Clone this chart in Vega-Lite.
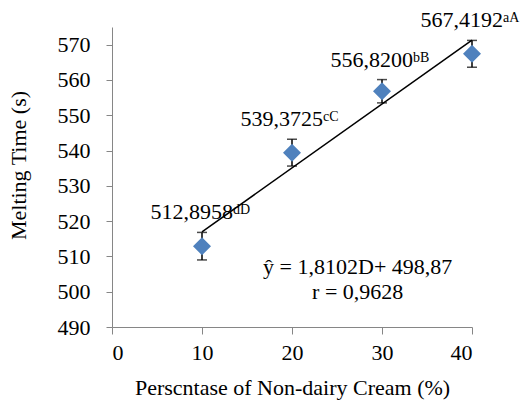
{
  "$schema": "https://vega.github.io/schema/vega-lite/v6.json",
  "autosize": {"type": "none"},
  "width": 360,
  "height": 300,
  "padding": {"left": 112, "top": 27, "right": 54, "bottom": 73},
  "background": "white",
  "config": {
    "view": {"stroke": null},
    "font": "Liberation Serif",
    "text": {"font": "Liberation Serif"},
    "axis": {
      "grid": false,
      "domainColor": "#868686",
      "tickColor": "#868686",
      "domainWidth": 1,
      "tickWidth": 1,
      "labelFont": "Liberation Serif",
      "labelFontSize": 22,
      "labelColor": "black",
      "labelOverlap": false,
      "titleFont": "Liberation Serif",
      "titleFontSize": 22,
      "titleFontWeight": "normal",
      "titleColor": "black"
    },
    "axisY": {"tickCount": 9}
  },
  "data": {
    "values": [
      {"D": 10, "mean": 512.8958, "lo": 509.0, "hi": 516.8, "label": "512,8958", "sup": "dD"},
      {"D": 20, "mean": 539.3725, "lo": 535.6, "hi": 543.2, "label": "539,3725", "sup": "cC"},
      {"D": 30, "mean": 556.82, "lo": 553.5, "hi": 560.1, "label": "556,8200", "sup": "bB"},
      {"D": 40, "mean": 567.4192, "lo": 563.6, "hi": 571.2, "label": "567,4192", "sup": "aA"}
    ]
  },
  "encoding": {
    "x": {
      "field": "D", "type": "quantitative",
      "scale": {"domain": [0, 40], "nice": false, "zero": false},
      "axis": {"values": [0, 10, 20, 30, 40], "tickSize": 7, "labelPadding": 8, "title": "Perscntase of Non-dairy Cream (%)", "titlePadding": 14}
    }
  },
  "layer": [
    {
      "mark": {"type": "rule", "color": "black", "strokeWidth": 1.5},
      "encoding": {
        "y": {
          "field": "lo", "type": "quantitative",
          "scale": {"domain": [490, 575], "nice": false, "zero": false},
          "axis": {"values": [490, 500, 510, 520, 530, 540, 550, 560, 570], "tickSize": 6, "labelPadding": 16, "title": "Melting Time  (s)", "titlePadding": 27, "titleY": 138}
        },
        "y2": {"field": "hi"}
      }
    },
    {
      "mark": {"type": "tick", "orient": "horizontal", "color": "black", "size": 10, "thickness": 1.5},
      "encoding": {"y": {"field": "lo", "type": "quantitative", "axis": {"values": [490, 500, 510, 520, 530, 540, 550, 560, 570], "tickSize": 6, "labelPadding": 16, "title": "Melting Time  (s)", "titlePadding": 27, "titleY": 138}}}
    },
    {
      "mark": {"type": "tick", "orient": "horizontal", "color": "black", "size": 10, "thickness": 1.5},
      "encoding": {"y": {"field": "hi", "type": "quantitative", "axis": {"values": [490, 500, 510, 520, 530, 540, 550, 560, 570], "tickSize": 6, "labelPadding": 16, "title": "Melting Time  (s)", "titlePadding": 27, "titleY": 138}}}
    },
    {
      "mark": {"type": "point", "shape": "diamond", "filled": true, "size": 324, "color": "#4F81BD", "opacity": 1},
      "encoding": {"y": {"field": "mean", "type": "quantitative", "axis": {"values": [490, 500, 510, 520, 530, 540, 550, 560, 570], "tickSize": 6, "labelPadding": 16, "title": "Melting Time  (s)", "titlePadding": 27, "titleY": 138}}}
    },
    {
      "transform": [{"regression": "mean", "on": "D"}],
      "mark": {"type": "line", "color": "black", "strokeWidth": 1.5},
      "encoding": {"y": {"field": "mean", "type": "quantitative", "axis": {"values": [490, 500, 510, 520, 530, 540, 550, 560, 570], "tickSize": 6, "labelPadding": 16, "title": "Melting Time  (s)", "titlePadding": 27, "titleY": 138}}}
    },
    {
      "mark": {"type": "text", "align": "right", "baseline": "alphabetic", "fontSize": 22, "dx": 31, "dy": -13, "color": "black"},
      "encoding": {"y": {"field": "hi", "type": "quantitative", "axis": {"values": [490, 500, 510, 520, 530, 540, 550, 560, 570], "tickSize": 6, "labelPadding": 16, "title": "Melting Time  (s)", "titlePadding": 27, "titleY": 138}}, "text": {"field": "label"}}
    },
    {
      "mark": {"type": "text", "align": "left", "baseline": "alphabetic", "fontSize": 14, "dx": 31, "dy": -18, "color": "black"},
      "encoding": {"y": {"field": "hi", "type": "quantitative", "axis": {"values": [490, 500, 510, 520, 530, 540, 550, 560, 570], "tickSize": 6, "labelPadding": 16, "title": "Melting Time  (s)", "titlePadding": 27, "titleY": 138}}, "text": {"field": "sup"}}
    },
    {
      "transform": [{"filter": "datum.D == 40"}],
      "mark": {"type": "text", "align": "center", "baseline": "alphabetic", "fontSize": 22, "lineHeight": 25, "color": "black"},
      "encoding": {
        "x": {"datum": 27.3, "type": "quantitative"},
        "y": {"datum": 504.9, "type": "quantitative", "axis": {"values": [490, 500, 510, 520, 530, 540, 550, 560, 570], "tickSize": 6, "labelPadding": 16, "title": "Melting Time  (s)", "titlePadding": 27, "titleY": 138}},
        "text": {"value": ["ŷ = 1,8102D+ 498,87", "r = 0,9628"]}
      }
    }
  ]
}
